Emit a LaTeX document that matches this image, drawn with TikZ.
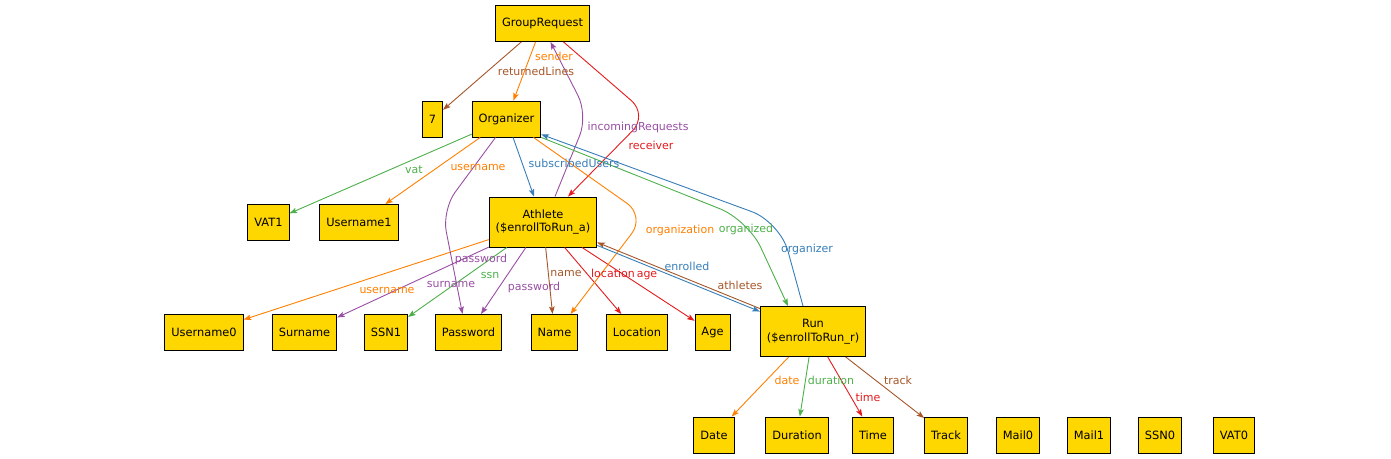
\documentclass[tikz,border=0pt]{standalone}
\usepackage{fontspec}
\setmainfont{DejaVu Sans}
\usetikzlibrary{arrows.meta}
\definecolor{boxgold}{RGB}{255,215,0}
\definecolor{ered}{RGB}{228,26,28}
\definecolor{eblue}{RGB}{55,126,184}
\definecolor{egreen}{RGB}{77,175,74}
\definecolor{epurple}{RGB}{152,78,163}
\definecolor{eorange}{RGB}{255,127,0}
\definecolor{ebrown}{RGB}{166,86,40}
\tikzset{
  atom/.style={rectangle,draw=black,fill=boxgold,line width=0.9pt,
               minimum height=36pt,inner xsep=6.5pt,inner ysep=3pt,
               font=\fontsize{11.4}{13.5}\selectfont,align=center},
  tall/.style={minimum height=50pt},
  rel/.style={-{Stealth[length=7.5pt,width=5.5pt,inset=1.5pt]},line width=0.9pt,
              rounded corners=22pt},
  lbl/.style={inner sep=0pt,font=\fontsize{11}{13}\selectfont},
}

\begin{document}
\begin{tikzpicture}[x=1pt,y=-1pt]
  \useasboundingbox (0,0) rectangle (1391,458);
  \node[atom](grp) at (542.5,23.5){GroupRequest};
  \node[atom](seven) at (432.5,119){7};
  \node[atom](org) at (506.5,119){Organizer};
  \node[atom](vat1) at (268.5,222.5){VAT1};
  \node[atom](un1) at (359,222.5){Username1};
  \node[atom,tall](ath) at (543,222){Athlete\\(\$enrollToRun\_a)};
  \node[atom](un0) at (204,332.5){Username0};
  \node[atom](sur) at (304.5,332.5){Surname};
  \node[atom](ssn1) at (386,332.5){SSN1};
  \node[atom](pwd) at (468.5,332.5){Password};
  \node[atom](name) at (554.5,332.5){Name};
  \node[atom](loc) at (637,332.5){Location};
  \node[atom](age) at (712.5,332.5){Age};
  \node[atom,tall](run) at (813,331.5){Run\\(\$enrollToRun\_r)};
  \node[atom](date) at (714,435){Date};
  \node[atom](dur) at (797,435){Duration};
  \node[atom](time) at (873,435){Time};
  \node[atom](track) at (946,435){Track};
  \node[atom](mail0) at (1018,435){Mail0};
  \node[atom](mail1) at (1089,435){Mail1};
  \node[atom](ssn0) at (1160,435){SSN0};
  \node[atom](vat0) at (1234,435){VAT0};

  \foreach \a/\b/\c in {grp/seven/ebrown,grp/org/eorange,org/vat1/egreen,
      org/un1/eorange,org/ath/eblue,ath/un0/eorange,ath/sur/epurple,
      ath/ssn1/egreen,ath/pwd/epurple,ath/name/ebrown,ath/loc/ered,
      ath/age/ered,run/date/eorange,run/dur/egreen,run/time/ered,
      run/track/ebrown}
    \draw[rel,\c](\a)--(\b);

  \draw[rel,epurple]([xshift=12pt]ath.north)--(588,115)--([xshift=8pt]grp.south);
  \draw[rel,ered]([xshift=21pt]grp.south)--(648,115)--([xshift=25pt]ath.north);
  \draw[rel,epurple]([xshift=-11pt]org.south)--(442,210)--([xshift=-6pt]pwd.north);
  \draw[rel,eorange]([xshift=27pt]org.south)--(645,216)--([xshift=16pt]name.north);
  \draw[rel,egreen,rounded corners=30pt](org.south east)--(748,220)--([xshift=-25pt]run.north);
  \draw[rel,eblue,rounded corners=30pt]([xshift=-10pt]run.north)--(780,222)--([yshift=3pt]org.south east);
  \draw[rel,ebrown]([yshift=1.5pt]run.158)--([yshift=1.5pt]ath.-22);
  \draw[rel,eblue]([yshift=-1.5pt]ath.-22)--([yshift=-1.5pt]run.158);

  \foreach \n/\p/\c/\t in {ret/{536,71}/ebrown/returnedLines,
      snd/{554,56}/eorange/sender,inc/{638,127}/epurple/incomingRequests,
      rcv/{651,145}/ered/receiver,vat/{414,170}/egreen/vat,
      un1/{478,167}/eorange/username,sub/{574,163}/eblue/subscribedUsers,
      pw1/{481,259}/epurple/password,orgn/{680,230}/eorange/organization,
      orgd/{746,229}/egreen/organized,orgr/{807,249}/eblue/organizer,
      un0/{387,290}/eorange/username,sur/{451,284}/epurple/surname,
      ssn/{490,275}/egreen/ssn,pw0/{534,287}/epurple/password,
      name/{566,273}/ebrown/name,loc/{613,273}/ered/location,
      age/{647,276}/ered/age,enr/{687,266}/eblue/enrolled,
      ath/{740,285}/ebrown/athletes,date/{787,380}/eorange/date,
      dur/{831,380}/egreen/duration,time/{868,397}/ered/time,
      trk/{898,380}/ebrown/track}
    \node[lbl,text=\c](l-\n) at (\p){\t};
\end{tikzpicture}
\end{document}
